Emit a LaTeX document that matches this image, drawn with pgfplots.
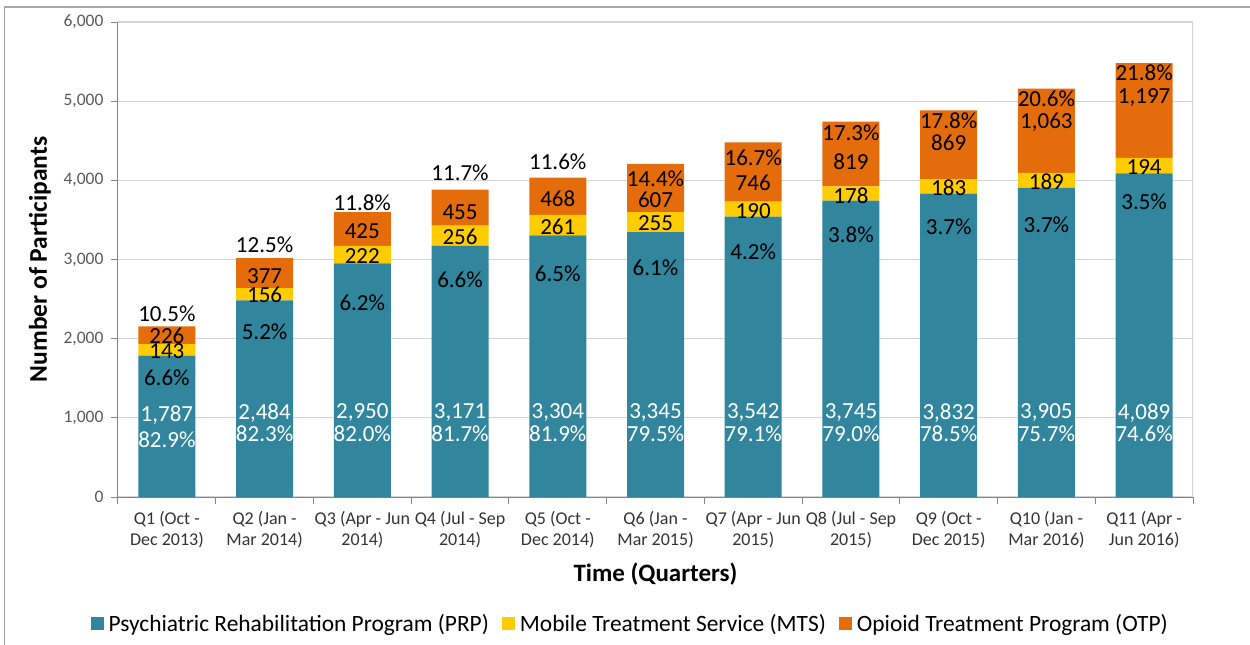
\documentclass[border=0pt]{standalone}
\usepackage{fontspec}
\setmainfont{Carlito}
\usepackage{pgfplots}
\pgfplotsset{compat=1.18}
\usetikzlibrary{calc}
\definecolor{prp}{HTML}{31859C}
\definecolor{mts}{HTML}{FFCC00}
\definecolor{otp}{HTML}{E46C0A}
\definecolor{gridc}{HTML}{D4D4D4}
\definecolor{axisc}{HTML}{868686}
\definecolor{tickc}{HTML}{595959}
\definecolor{catc}{HTML}{333333}

\pgfplotsset{
  lbl/.style={draw=none, mark=none, nodes near coords, point meta=explicit symbolic,
    nodes near coords align=center,
    every node near coord/.append style={anchor=center, inner sep=0pt,
      font=\fontsize{23}{24}\selectfont, text=#1}},
  lbl/.default=black,
}

\begin{document}
\begin{tikzpicture}[x=1pt,y=1pt]
\begin{axis}[
  scale only axis, width=1075pt, height=475pt,
  ybar stacked, bar width=57pt,
  xmin=-0.5, xmax=10.5, ymin=0, ymax=6000,
  ytick={0,1000,2000,3000,4000,5000,6000},
  xtick={-0.5,0.5,1.5,2.5,3.5,4.5,5.5,6.5,7.5,8.5,9.5,10.5},
  xticklabels={{Q1 (Oct -\\Dec 2013)},{Q2 (Jan -\\Mar 2014)},{Q3 (Apr - Jun\\2014)},
    {Q4 (Jul - Sep\\2014)},{Q5 (Oct -\\Dec 2014)},{Q6 (Jan -\\Mar 2015)},
    {Q7 (Apr - Jun\\2015)},{Q8 (Jul - Sep\\2015)},{Q9 (Oct -\\Dec 2015)},
    {Q10 (Jan -\\Mar 2016)},{Q11 (Apr -\\Jun 2016)},{}},
  x tick label style={xshift=48.9pt, align=center, text=catc,
    font=\fontsize{18}{21}\selectfont, yshift=-4pt},
  y tick label style={text=tickc, font=\fontsize{17.5}{20}\selectfont, xshift=-4pt},
  /pgf/number format/assume math mode=true,
  /pgf/number format/1000 sep={,},
  scaled y ticks=false,
  axis lines=left, axis line style={-, axisc, line width=1pt},
  tick align=outside, major tick length=7pt,
  tick style={axisc, line width=1pt},
  ymajorgrids, grid style={gridc, line width=1.2pt},
  xlabel={Time (Quarters)},
  ylabel={Number of Participants},
  every axis x label/.style={at={(axis description cs:0.5,-0.162)}, anchor=center,
    font=\bfseries\fontsize{25}{28}\selectfont},
  every axis y label/.style={at={(axis description cs:-0.0726,0.5)}, rotate=90,
    anchor=center, font=\bfseries\fontsize{25.5}{28}\selectfont},
  legend columns=3,
  legend style={at={(axis description cs:0.476,-0.267)}, anchor=center, draw=none,
    fill=none, font=\fontsize{23.4}{25}\selectfont, nodes={inner sep=1pt},
    /tikz/every odd column/.append style={column sep=4pt},
    /tikz/every even column/.append style={column sep=12pt}},
  legend image code/.code={\fill[#1] (0pt,-6.5pt) rectangle (13pt,6.5pt);},
]
\addplot[fill=prp, draw=none] coordinates {(0,1787) (1,2484) (2,2950) (3,3171) (4,3304) (5,3345) (6,3542) (7,3745) (8,3832) (9,3905) (10,4089)};
\addplot[fill=mts, draw=none] coordinates {(0,143) (1,156) (2,222) (3,256) (4,261) (5,255) (6,190) (7,178) (8,183) (9,189) (10,194)};
\addplot[fill=otp, draw=none] coordinates {(0,226) (1,377) (2,425) (3,455) (4,468) (5,607) (6,746) (7,819) (8,869) (9,1063) (10,1197)};
\legend{Psychiatric Rehabilitation Program (PRP), Mobile Treatment Service (MTS), Opioid Treatment Program (OTP)}
\draw[gridc, line width=1.2pt] (rel axis cs:1,0) -- (rel axis cs:1,1);
\coordinate (O) at (rel axis cs:0,0);
\end{axis}

\begin{axis}[
  scale only axis, width=1075pt, height=475pt,
  xmin=-0.5, xmax=10.5, ymin=0, ymax=6000,
  hide axis, clip=false,
]
% PRP counts (white)
\addplot[lbl=white] coordinates {(0,1036)[1,787] (1,1065)[2,484] (2,1065)[2,950] (3,1065)[3,171] (4,1065)[3,304] (5,1065)[3,345] (6,1065)[3,542] (7,1065)[3,745] (8,1065)[3,832] (9,1065)[3,905] (10,1065)[4,089]};
% PRP shares (white)
\addplot[lbl=white] coordinates {(0,720)[82.9\%] (1,800)[82.3\%] (2,800)[82.0\%] (3,800)[81.7\%] (4,800)[81.9\%] (5,800)[79.5\%] (6,800)[79.1\%] (7,800)[79.0\%] (8,800)[78.5\%] (9,800)[75.7\%] (10,800)[74.6\%]};
% MTS shares
\addplot[lbl] coordinates {(0,1503)[6.6\%] (1,2084)[5.2\%] (2,2450)[6.2\%] (3,2750)[6.6\%] (4,2815)[6.5\%] (5,2892)[6.1\%] (6,3095)[4.2\%] (7,3309)[3.8\%] (8,3410)[3.7\%] (9,3436)[3.7\%] (10,3726)[3.5\%]};
% MTS counts
\addplot[lbl] coordinates {(0,1838)[143] (1,2550)[156] (2,3044)[222] (3,3284)[256] (4,3410)[261] (5,3460)[255] (6,3615)[190] (7,3810)[178] (8,3905)[183] (9,3980)[189] (10,4168)[194]};
% OTP counts
\addplot[lbl] coordinates {(0,2030)[226] (1,2790)[377] (2,3360)[425] (3,3600)[455] (4,3764)[468] (5,3751)[607] (6,3966)[746] (7,4231)[819] (8,4471)[869] (9,4737)[1,063] (10,5052)[1,197]};
% OTP shares
\addplot[lbl] coordinates {(0,2311)[10.5\%] (1,3183)[12.5\%] (2,3714)[11.8\%] (3,4092)[11.7\%] (4,4231)[11.6\%] (5,4017)[14.4\%] (6,4282)[16.7\%] (7,4598)[17.3\%] (8,4750)[17.8\%] (9,5027)[20.6\%] (10,5355)[21.8\%]};
\end{axis}

\pgfresetboundingbox
\useasboundingbox ($(O)+(-118,-148)$) rectangle ++(1250,645);
\draw[color=gray!70, line width=1.2pt] ($(O)+(-113.5,-148)$) -- ++(0,638) -- ++(1245.5,0);
\end{tikzpicture}
\end{document}
